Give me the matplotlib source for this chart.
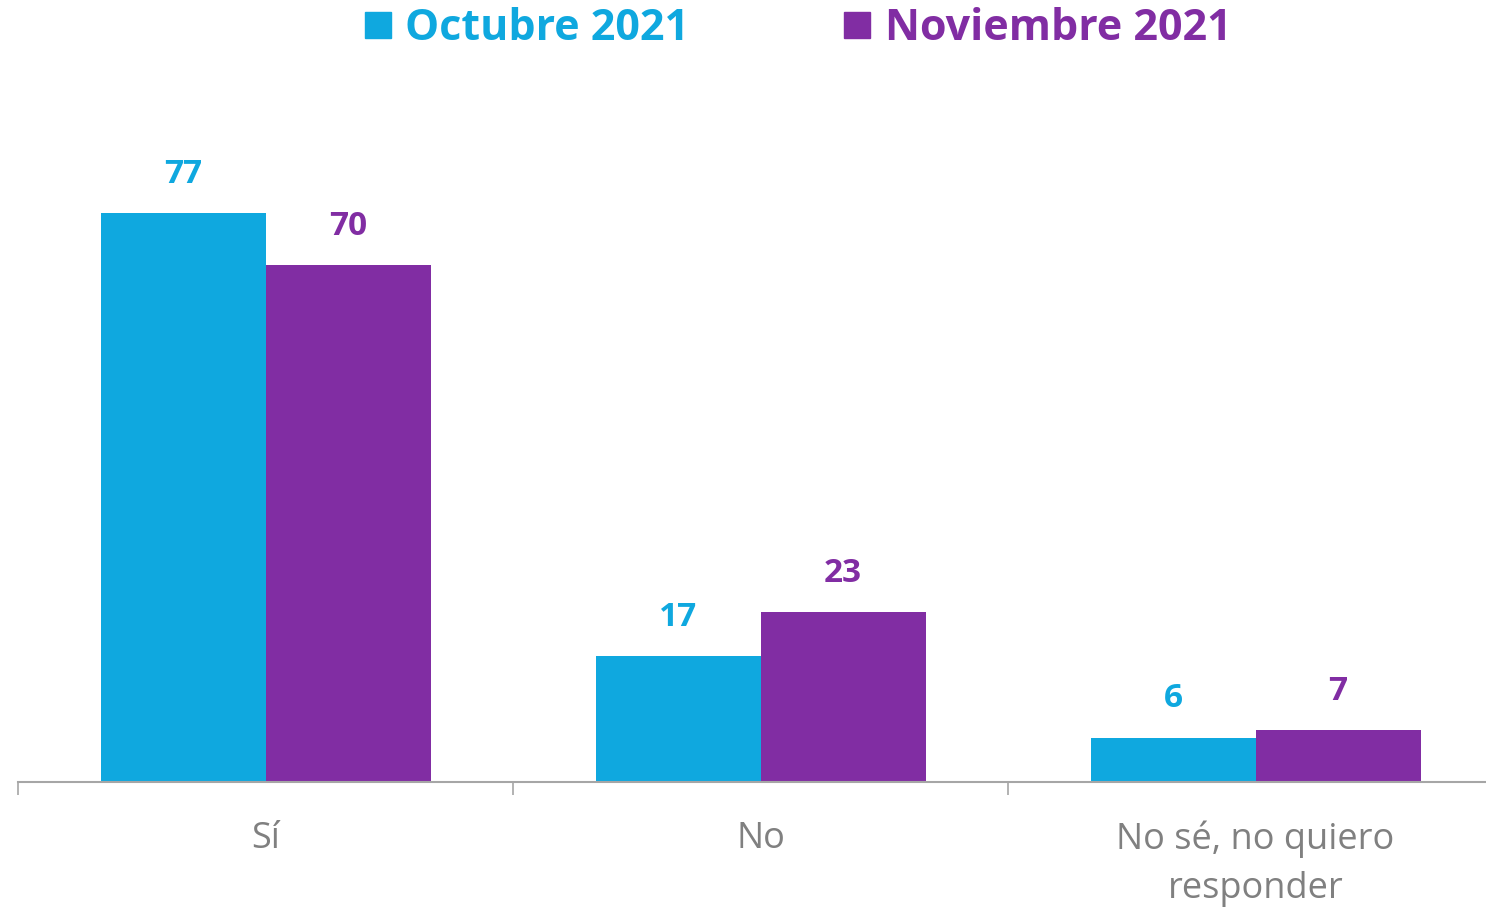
import matplotlib
matplotlib.use("Agg")
import matplotlib.pyplot as plt
from matplotlib.lines import Line2D
import numpy as np

categories = ["Sí", "No", "No sé, no quiero\nresponder"]
series_names = ["Octubre 2021", "Noviembre 2021"]
oct_2021 = [77, 17, 6]
nov_2021 = [70, 23, 7]
colors = ["#0FA8DF", "#812DA3"]

plt.rcParams['font.family'] = ['Open Sans', 'DejaVu Sans']

W, H = 1486, 910
fig = plt.figure(figsize=(W / 100, H / 100), dpi=100)

ymax = 90
px_per_unit = (782 - 213) / 77
ax_h = ymax * px_per_unit
left_px, right_px = 18, 18 + 3 * 495
ax = fig.add_axes([left_px / W, 1 - 782 / H, (right_px - left_px) / W, ax_h / H])

x = np.arange(len(categories))
bw = 1 / 3
for i, (vals, c) in enumerate(zip([oct_2021, nov_2021], colors)):
    pos = x + (i - 0.5) * bw
    ax.bar(pos, vals, width=bw, color=c, zorder=2)
    for p, v in zip(pos, vals):
        ax.annotate(str(v), (p, v), xytext=(0, 16), textcoords="offset points",
                    ha="center", va="bottom", fontsize=24, fontweight="bold",
                    color=c)

ax.set_xlim(-0.5, len(categories) - 0.5)
ax.set_ylim(0, ymax)
for s in ["top", "right", "left"]:
    ax.spines[s].set_visible(False)
ax.spines["bottom"].set_color("#A6A6A6")
ax.spines["bottom"].set_linewidth(1.5)
ax.set_yticks([])
ax.set_xticks(np.arange(len(categories) + 1) - 0.5)
ax.set_xticklabels([])
ax.tick_params(axis="x", which="major", length=9, width=1.2, color="#A6A6A6")
ax.set_xticks(x, minor=True)
ax.set_xticklabels(categories, minor=True, fontsize=26, color="#808080",
                   linespacing=1.45)
ax.tick_params(axis="x", which="minor", length=0, pad=28)

handles = [Line2D([], [], marker="s", linestyle="none", markersize=19,
                  markerfacecolor=c, markeredgecolor=c) for c in colors]
leg = fig.legend(handles, series_names, loc="center", bbox_to_anchor=(794 / W, 1 - 29 / H),
                 ncol=2, frameon=False, handletextpad=0.15, columnspacing=3.4,
                 handlelength=1.0, prop={"size": 31, "weight": "bold"})
for t, c in zip(leg.get_texts(), colors):
    t.set_color(c)

fig.savefig("out.png", dpi=100)
